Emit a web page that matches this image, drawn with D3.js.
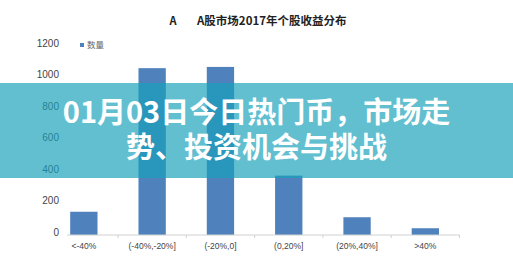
<!DOCTYPE html>
<html><head><meta charset="utf-8">
<script src="https://cdn.jsdelivr.net/npm/d3@7"></script>
<style>body{margin:0;background:#fff;}svg{display:block;}</style>
</head><body>
<script>
const categories = ["<-40%", "(-40%,-20%]", "(-20%,0]", "(0,20%]", "(20%,40%]", ">40%"];
const counts = [148, 1062, 1070, 378, 113, 43];
const yTicks = [0, 200, 400, 600, 800, 1000, 1200];
const chartTitle = "A股市场2017年个股收益分布";
const seriesName = "数量";
const bannerLines = ["01月03日今日热门币，市场走", "势、投资机会与挑战"];

const W = 513, H = 262;
const svg = d3.select("body").append("svg").attr("width", W).attr("height", H);
const font = "'Noto Sans CJK SC', 'Liberation Sans', sans-serif";

const x = d3.scaleBand().domain(categories).range([49.7, 459.5]).paddingInner(0.6).paddingOuter(0.3);
const y = d3.scaleLinear().domain([0, 1200]).range([235, 46.5]);

// title
svg.append("text").attr("x", 173).attr("y", 25).attr("text-anchor", "middle")
  .attr("font-family", font).attr("font-weight", "bold").attr("font-size", 11).attr("fill", "#222").text("A");
svg.append("text").attr("x", 197).attr("y", 25)
  .attr("font-family", font).attr("font-weight", "bold").attr("font-size", 11.5).attr("fill", "#222").text(chartTitle);

// y tick labels
svg.append("g").selectAll("text").data(yTicks).join("text")
  .attr("x", 59).attr("y", d => y(d) - 3).attr("dy", "0.35em").attr("text-anchor", "end")
  .attr("font-family", "'Liberation Sans', Arial, sans-serif").attr("font-size", 10).attr("fill", "#444")
  .text(d => d);

// legend
svg.append("rect").attr("x", 80).attr("y", 43).attr("width", 4).attr("height", 4).attr("fill", "#4f81bd");
svg.append("text").attr("x", 87).attr("y", 45).attr("dy", "0.35em")
  .attr("font-family", font).attr("font-size", 8.5).attr("fill", "#666").text(seriesName);

// bars
svg.append("g").selectAll("rect").data(categories).join("rect")
  .attr("x", d => x(d)).attr("width", x.bandwidth())
  .attr("y", (d, i) => y(counts[i])).attr("height", (d, i) => y(0) - y(counts[i]))
  .attr("fill", "#4f81bd");

// x axis
const axis = svg.append("g").attr("transform", `translate(0,${y(0)})`);
axis.append("line").attr("x1", 67).attr("x2", 459.5).attr("stroke", "#d0d0d0");
const step = x.step();
const bounds = categories.map((c, i) => x(c) + x.bandwidth() / 2 + step / 2);
axis.selectAll("line.t").data(bounds).join("line").attr("class", "t")
  .attr("x1", d => d).attr("x2", d => d).attr("y1", 0).attr("y2", 3).attr("stroke", "#d0d0d0");
axis.selectAll("text").data(categories).join("text")
  .attr("x", d => x(d) + x.bandwidth() / 2).attr("y", 11).attr("dy", "0.35em").attr("text-anchor", "middle")
  .attr("font-family", "'Liberation Sans', Arial, sans-serif").attr("font-size", 8.5).attr("fill", "#444")
  .text(d => d);

// banner overlay
svg.append("rect").attr("x", 0).attr("y", 83).attr("width", W).attr("height", 95)
  .attr("fill", "rgb(24,160,186)").attr("fill-opacity", 0.68);
const bt = svg.append("text").attr("text-anchor", "middle")
  .attr("font-family", font).attr("font-weight", "bold").attr("font-size", 29).attr("fill", "#fff");
bt.selectAll("tspan").data(bannerLines).join("tspan")
  .attr("x", 256.5).attr("y", (d, i) => 112.5 + i * 35.5).attr("dy", "0.35em")
  .text(d => d);
</script>
</body></html>
